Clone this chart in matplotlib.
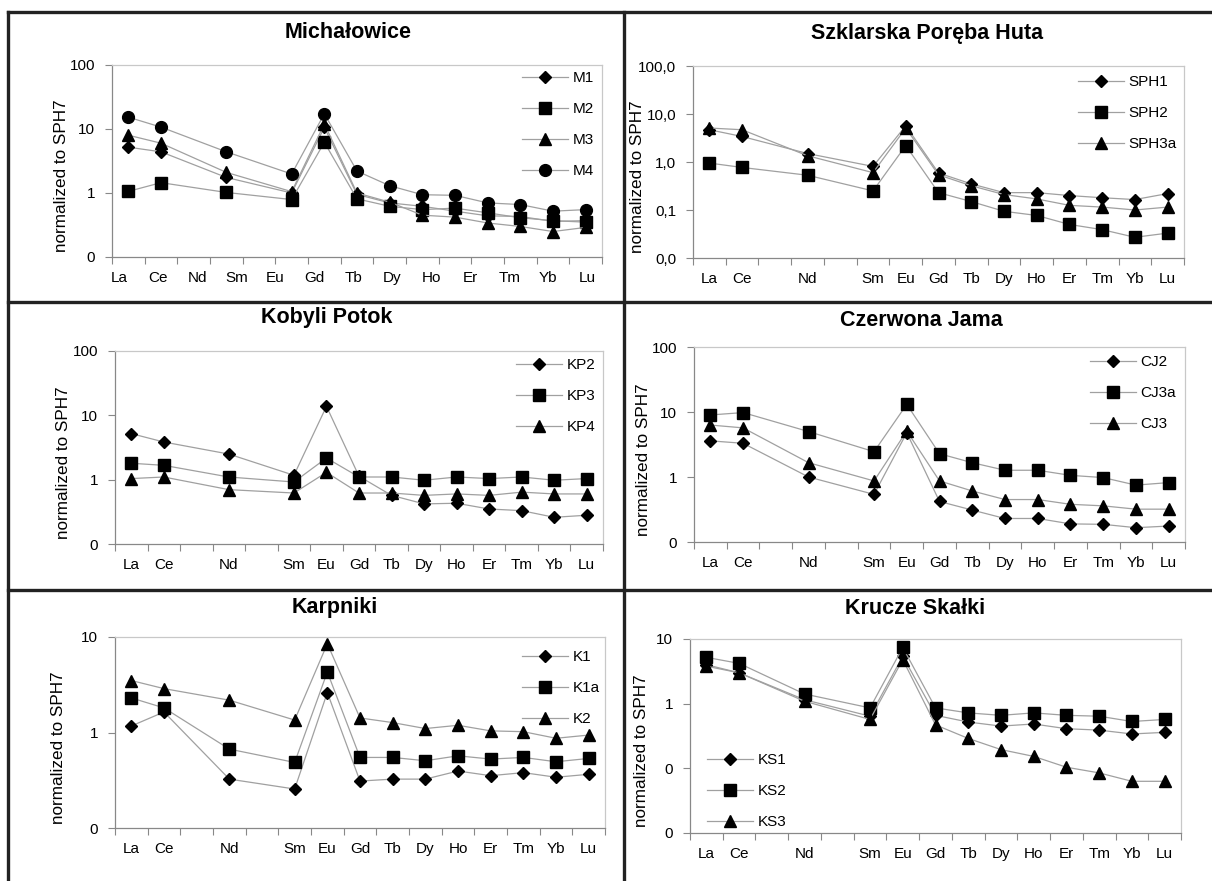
import numpy as np
import matplotlib
matplotlib.use('Agg')
import matplotlib.pyplot as plt
from matplotlib.lines import Line2D
from matplotlib.ticker import NullLocator

plt.rcParams['font.family'] = ['Liberation Sans', 'DejaVu Sans']

# REE sequence, Pr and Pm slots have no data
ree_all = ['La', 'Ce', 'Pr', 'Nd', 'Pm', 'Sm', 'Eu', 'Gd', 'Tb', 'Dy', 'Ho', 'Er', 'Tm', 'Yb', 'Lu']
ree = ['La', 'Ce', 'Nd', 'Sm', 'Eu', 'Gd', 'Tb', 'Dy', 'Ho', 'Er', 'Tm', 'Yb', 'Lu']

# Michałowice
m1 = [5.2, 4.4, 1.75, 1.0, 10.6, 0.95, 0.70, 0.62, 0.52, 0.44, 0.43, 0.36, 0.37]
m2 = [1.06, 1.45, 1.02, 0.79, 6.2, 0.81, 0.62, 0.55, 0.58, 0.49, 0.41, 0.37, 0.35]
m3 = [8.0, 6.0, 2.1, 1.05, 12.0, 1.0, 0.72, 0.45, 0.42, 0.34, 0.30, 0.25, 0.29]
m4 = [15.3, 10.7, 4.4, 1.98, 17.3, 2.2, 1.3, 0.94, 0.92, 0.70, 0.66, 0.52, 0.55]

# Szklarska Poręba Huta
sph1 = [4.7, 3.4, 1.5, 0.81, 5.7, 0.59, 0.35, 0.23, 0.23, 0.20, 0.18, 0.165, 0.22]
sph2 = [0.95, 0.77, 0.53, 0.25, 2.2, 0.23, 0.15, 0.094, 0.077, 0.050, 0.039, 0.027, 0.033]
sph3a = [5.1, 4.7, 1.35, 0.60, 5.1, 0.54, 0.32, 0.21, 0.17, 0.125, 0.115, 0.10, 0.115]

# Kobyli Potok
kp2 = [5.2, 3.85, 2.5, 1.17, 13.8, 1.13, 0.57, 0.42, 0.43, 0.35, 0.33, 0.26, 0.28]
kp3 = [1.8, 1.67, 1.1, 0.92, 2.17, 1.1, 1.1, 0.98, 1.1, 1.04, 1.1, 0.98, 1.04]
kp4 = [1.04, 1.1, 0.70, 0.62, 1.3, 0.62, 0.62, 0.57, 0.60, 0.57, 0.64, 0.60, 0.60]

# Czerwona Jama
cj2 = [3.6, 3.3, 1.0, 0.54, 4.8, 0.42, 0.31, 0.23, 0.23, 0.19, 0.187, 0.166, 0.176]
cj3a = [9.0, 9.8, 5.0, 2.45, 13.1, 2.28, 1.66, 1.27, 1.27, 1.06, 0.98, 0.75, 0.82]
cj3 = [6.3, 5.7, 1.66, 0.87, 5.1, 0.87, 0.61, 0.45, 0.45, 0.38, 0.36, 0.32, 0.32]

# Karpniki
k1 = [1.17, 1.64, 0.325, 0.256, 2.62, 0.31, 0.325, 0.325, 0.395, 0.353, 0.38, 0.34, 0.365]
k1a = [2.3, 1.81, 0.67, 0.486, 4.3, 0.548, 0.548, 0.506, 0.57, 0.527, 0.548, 0.494, 0.535]
k2 = [3.5, 2.88, 2.18, 1.35, 8.5, 1.42, 1.27, 1.1, 1.19, 1.04, 1.02, 0.87, 0.94]

# Krucze Skałki
ks1 = [4.0, 3.0, 1.15, 0.64, 5.4, 0.66, 0.52, 0.45, 0.485, 0.41, 0.39, 0.34, 0.36]
ks2 = [5.2, 4.2, 1.41, 0.86, 7.4, 0.86, 0.72, 0.66, 0.72, 0.66, 0.64, 0.53, 0.57]
ks3 = [3.8, 3.0, 1.09, 0.57, 4.8, 0.47, 0.29, 0.195, 0.153, 0.104, 0.085, 0.063, 0.063]

W, H = 1212, 881
fig = plt.figure(figsize=(W / 100, H / 100), dpi=100)


def box(l, r, t, b):
    return [l / W, 1 - b / H, (r - l) / W, (b - t) / H]


def fmt(v, dec):
    return f'{v:.{dec}f}'.replace('.', ',')


markers = [('D', 6.5), ('s', 8.5), ('^', 9), ('o', 8.5)]
x = [ree_all.index(e) for e in ree]

panels = [
    ('Michałowice', ['M1', 'M2', 'M3', 'M4'], [m1, m2, m3, m4], (0.1, 100), 0,
     (112, 602, 65, 257), (348, 32), (522, 78), 62, True),
    ('Szklarska Poręba Huta', ['SPH1', 'SPH2', 'SPH3a'], [sph1, sph2, sph3a], (0.01, 100), 1,
     (693, 1184, 66, 258), (927, 33), (1078, 82), 638, False),
    ('Kobyli Potok', ['KP2', 'KP3', 'KP4'], [kp2, kp3, kp4], (0.1, 100), 0,
     (115, 603, 351, 544), (327, 318), (516, 365), 63, False),
    ('Czerwona Jama', ['CJ2', 'CJ3a', 'CJ3'], [cj2, cj3a, cj3], (0.1, 100), 0,
     (694, 1185, 347, 542), (921, 320), (1090, 362), 643, False),
    ('Karpniki', ['K1', 'K1a', 'K2'], [k1, k1a, k2], (0.1, 10), 0,
     (115, 605, 637, 828), (335, 608), (522, 657), 59, False),
    ('Krucze Skałki', ['KS1', 'KS2', 'KS3'], [ks1, ks2, ks3], (0.01, 10), 0,
     (690, 1181, 639, 833), (915, 609), (707, 760), 642, False),
]

for title, names, series, ylim, dec, ax_px, t_px, lg_px, yl_x, shifted in panels:
    ax = fig.add_axes(box(*ax_px))
    for (mk, ms), name, vals in zip(markers, names, series):
        ax.plot(x, vals, color='#a0a0a0', lw=0.9, marker=mk, ms=ms,
                mfc='black', mec='black', label=name)
    ax.set_yscale('log')
    ax.set_ylim(*ylim)
    ax.set_xlim(-0.5, len(ree_all) - 0.5)
    decs = 10.0 ** np.arange(np.log10(ylim[0]), np.log10(ylim[1]) + 0.5)
    ax.set_yticks(decs, [fmt(v, dec) for v in decs])
    ax.yaxis.set_minor_locator(NullLocator())
    if shifted:
        # labels on this panel are spread evenly, not under the points
        ax.set_xticks(np.linspace(-0.27, 14.05, len(ree)), ree)
    else:
        ax.set_xticks(x, ree)
    ax.set_xticks(np.arange(-0.5, len(ree_all)), minor=True)
    ax.tick_params(axis='x', which='major', length=0, pad=10, labelsize=11)
    ax.tick_params(axis='x', which='minor', length=5, color='#888888', width=0.8)
    ax.tick_params(axis='y', length=5, color='#888888', width=0.8, pad=7, labelsize=11)
    for s in ['left', 'bottom']:
        ax.spines[s].set_color('#888888')
        ax.spines[s].set_linewidth(0.9)
    for s in ['top', 'right']:
        ax.spines[s].set_color('#c8c8c8')
        ax.spines[s].set_linewidth(0.9)
    fig.text(t_px[0] / W, 1 - t_px[1] / H, title, ha='center', va='center',
             fontsize=15.5, fontweight='bold')
    fig.text(yl_x / W, 1 - (ax_px[2] + ax_px[3]) / 2 / H - 15 / H, 'normalized to SPH7',
             rotation=90, ha='center', va='center', fontsize=12.3)
    ax.legend(loc='upper left', bbox_to_anchor=(lg_px[0] / W, 1 - (lg_px[1] - 7) / H),
              bbox_transform=fig.transFigure, frameon=False, borderpad=0,
              borderaxespad=0, handlelength=3.0, handletextpad=0.3,
              labelspacing=1.12, fontsize=11)

# panel frame lines
lc = '#222222'
lw = 2.4
for (x0, y0, x1, y1) in [(8, 12, W, 12), (8, 302, W, 302), (8, 590, W, 590),
                         (8, 12, 8, H), (623.5, 12, 623.5, H)]:
    fig.add_artist(Line2D([x0 / W, x1 / W], [1 - y0 / H, 1 - y1 / H],
                          transform=fig.transFigure, color=lc, lw=lw))

fig.savefig('out.png', dpi=100)
